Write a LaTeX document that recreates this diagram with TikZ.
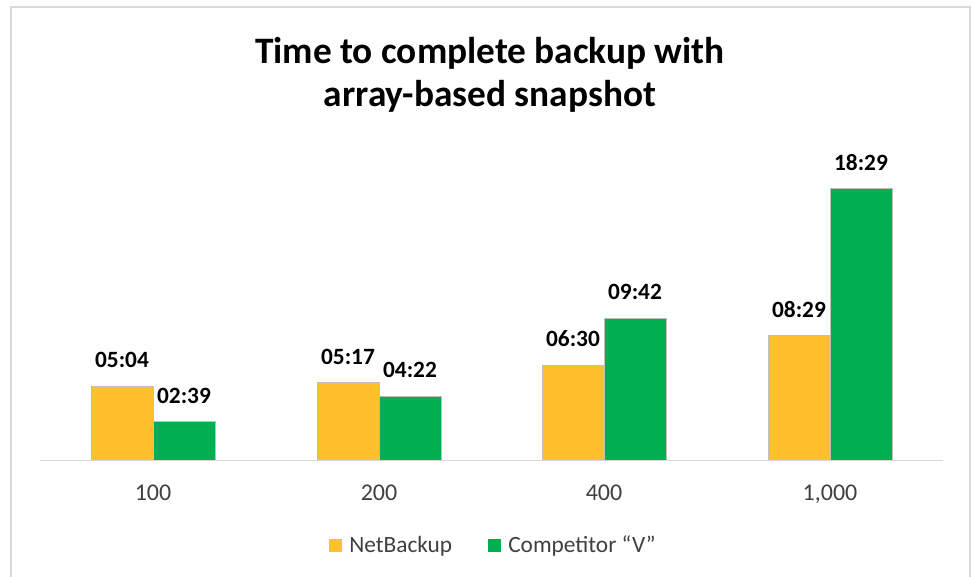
\documentclass[tikz,border=0pt]{standalone}
\usepackage{fontspec}
\setmainfont{Carlito}
\definecolor{nbyellow}{RGB}{255,192,46}
\definecolor{cvgreen}{RGB}{0,176,80}
\definecolor{framegray}{RGB}{217,217,217}
\definecolor{bargray}{RGB}{191,191,191}
\definecolor{axistext}{RGB}{64,64,64}
\begin{document}
\begin{tikzpicture}[x=0.75pt,y=-0.75pt,
  barbox/.style={draw=bargray,line width=0.75pt},
  vallabel/.style={font=\fontsize{17.5}{19}\selectfont\bfseries,anchor=base,inner sep=0pt},
  catlabel/.style={font=\fontsize{18}{20}\selectfont,text=axistext,anchor=base,inner sep=0pt},
  titlelabel/.style={font=\fontsize{28}{30}\selectfont\bfseries,anchor=base,inner sep=0pt},
  legendlabel/.style={font=\fontsize{17.5}{19}\selectfont,text=axistext,anchor=base west,inner sep=0pt},
  legendkey/.style={minimum size=9.75pt,inner sep=0pt,anchor=north west}]
\useasboundingbox (0,0) rectangle (971,577);
\fill[white] (0,0) rectangle (971,577);
\draw[framegray,line width=1.5pt] (11,577) -- (11,7) -- (970,7) -- (970,577);
% title
\node[titlelabel] (t1) at (490,64) {Time to complete backup with};
\node[titlelabel] (t2) at (490,107) {array-based snapshot};
% bars
\pgfmathsetmacro{\base}{460.5}
\pgfmathsetmacro{\sc}{14.69}
\foreach \cx/\va/\vb/\la/\lb/\cat/\nm in {
  153/5.0667/2.65/05:04/02:39/100/a,
  379/5.2833/4.3667/05:17/04:22/200/b,
  604/6.5/9.7/06:30/09:42/400/c,
  830/8.4833/18.4833/08:29/18:29/{1,000}/d}{
  \pgfmathsetmacro{\ya}{\base-\va*\sc}
  \pgfmathsetmacro{\yb}{\base-\vb*\sc}
  \fill[nbyellow] (\cx-62,\base) rectangle (\cx,\ya);
  \draw[barbox] (\cx-62,\base) -- (\cx-62,\ya) -- (\cx,\ya) -- (\cx,\base);
  \fill[cvgreen] (\cx,\base) rectangle (\cx+62,\yb);
  \draw[barbox] (\cx,\base) -- (\cx,\yb) -- (\cx+62,\yb) -- (\cx+62,\base);
  \node[vallabel] (va\nm) at (\cx-31,\ya-18.5) {\la};
  \node[vallabel] (vb\nm) at (\cx+31,\yb-18.5) {\lb};
  \node[catlabel] (cat\nm) at (\cx,500) {\cat};
}
% axis
\draw[framegray,line width=1pt] (40,460.5) -- (943,460.5);
% legend
\node[legendkey,fill=nbyellow] (k1) at (329,539) {};
\node[legendlabel] (l1) at (349,552.5) {NetBackup};
\node[legendkey,fill=cvgreen] (k2) at (488,539) {};
\node[legendlabel] (l2) at (508,552.5) {Competitor “V”};
\end{tikzpicture}
\end{document}
